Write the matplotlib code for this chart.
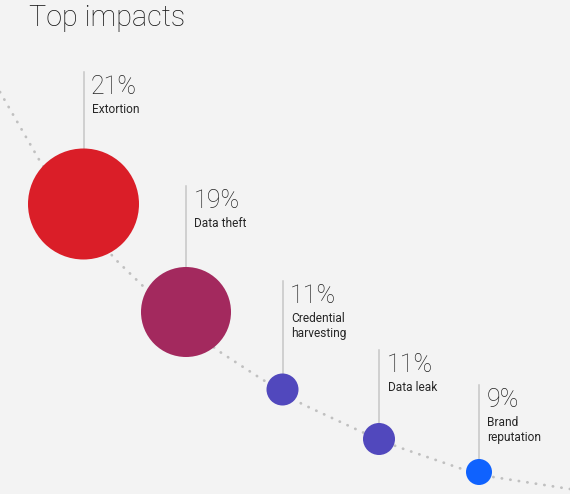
import matplotlib.pyplot as plt
from matplotlib.patches import Circle

# Datos
labels = ["Extortion", "Data theft", "Credential\nharvesting", "Data leak", "Brand\nreputation"]
values = [21, 19, 11, 11, 9]

# Estilo y posiciones (pixeles)
colors = ["#da1e28", "#a3295e", "#5148bd", "#5148bd", "#0f62fe"]
centers_x = [83.5, 186, 282.5, 379, 479]
centers_y = [204, 312, 389.5, 439, 472]
radii = [55.5, 45, 16, 16, 13]
line_top = [72, 186, 281, 350, 385]

# Curva punteada de fondo (puntos guia)
curve_x = [0, 41, 80, 114, 145, 217, 260, 302, 362, 398, 465, 493, 570]
curve_y = [92, 163, 214, 258, 288, 350, 378, 404, 432, 447, 470, 477, 489]

bg = "#f3f3f3"
font = "Roboto"

fig = plt.figure(figsize=(5.7, 4.94), dpi=100, facecolor=bg)
ax = fig.add_axes([0, 0, 1, 1])
ax.set_facecolor(bg)
ax.set_xlim(0, 570)
ax.set_ylim(494, 0)
ax.axis("off")

ax.plot(curve_x, curve_y, color="#c0c0c0", linewidth=2.0,
        linestyle=(0, (0.1, 3.0)), dash_capstyle="round", zorder=1)

for i in range(len(values)):
    cx = centers_x[i]
    ax.plot([cx, cx], [line_top[i], centers_y[i]], color="#c6c6c6",
            linewidth=1.1, zorder=2)
    ax.add_patch(Circle((cx, centers_y[i]), radii[i], facecolor=colors[i],
                        edgecolor="none", zorder=3))
    ax.text(cx + 7.5, line_top[i] + 2.5, f"{values[i]}%", fontsize=18,
            family=font, fontweight="light", color="#262626",
            ha="left", va="top")
    ax.text(cx + 8.5, line_top[i] + 30.5, labels[i], fontsize=8.6,
            family=font, color="#262626", ha="left", va="top",
            linespacing=1.25)

ax.text(29, 4, "Top impacts", fontsize=20.7, family=font, fontweight="light",
        color="#161616", ha="left", va="top")

fig.savefig("out.png", dpi=100, facecolor=bg)
